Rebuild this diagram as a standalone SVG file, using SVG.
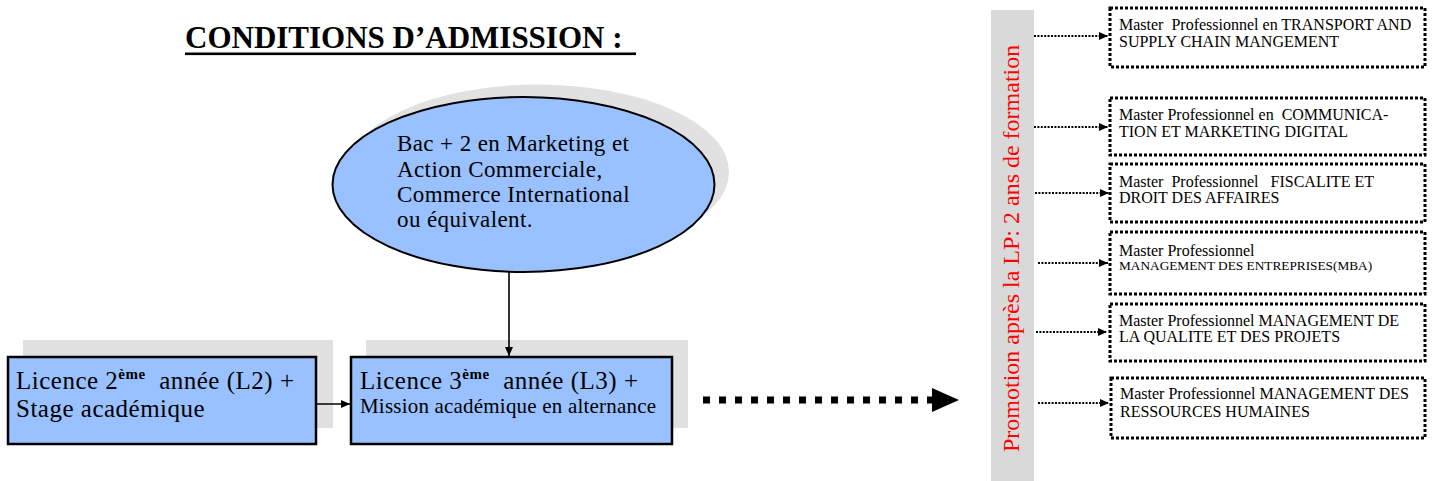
<svg xmlns="http://www.w3.org/2000/svg" width="1435" height="481" viewBox="0 0 1435 481">
<style>
.serif{font-family:"Liberation Serif","Times New Roman",serif;fill:#000}
.shadow{fill:#E1E1E1}
.blue{fill:#99C1FF;stroke:#000;stroke-width:2.5}
.mbox{fill:#fff;stroke:#000;stroke-width:3;stroke-dasharray:3 2}
.dot{stroke:#000;stroke-width:2;stroke-dasharray:2 1.4;fill:none}
.solid{stroke:#000;stroke-width:1.6;fill:none}
.mt{font-size:16px}
.lic{font-size:25px;letter-spacing:0.5px}
</style>
<defs>
<marker id="ah" markerUnits="userSpaceOnUse" markerWidth="9" markerHeight="8" refX="9" refY="4" orient="auto">
<path d="M0,0 L9,4 L0,8 z" fill="#000"/>
</marker>
<marker id="big" markerUnits="userSpaceOnUse" markerWidth="27" markerHeight="24" refX="0" refY="12" orient="auto">
<path d="M0,0 L27,12 L0,24 z" fill="#000"/>
</marker>
</defs>
<rect width="1435" height="481" fill="#fff"/>

<g id="title">
<text class="serif" x="185" y="48" font-size="31" font-weight="bold" xml:space="preserve">CONDITIONS D’ADMISSION :</text>
<rect x="185" y="52.5" width="451" height="2.6" fill="#000"/>
</g>

<g id="bac">
<ellipse class="shadow" cx="538" cy="172" rx="191" ry="87.5"/>
<ellipse cx="523.5" cy="184.5" rx="191" ry="87.5" fill="#99C1FF" stroke="#000" stroke-width="2"/>
<text class="serif" font-size="23" letter-spacing="0.4"><tspan x="397" y="151">Bac + 2 en Marketing et</tspan><tspan x="397" y="177">Action Commerciale,</tspan><tspan x="397" y="202">Commerce International</tspan><tspan x="397" y="227">ou équivalent.</tspan></text>
</g>

<g id="l2">
<rect class="shadow" x="23" y="340" width="310" height="88"/>
<rect class="blue" x="8" y="357" width="308" height="87"/>
<text class="serif lic" xml:space="preserve"><tspan x="16" y="389">Licence 2</tspan><tspan font-size="15" font-weight="bold" dy="-10">ème</tspan><tspan dy="10">  année (L2) +</tspan><tspan x="16" y="417">Stage académique</tspan></text>
</g>

<g id="l3">
<rect class="shadow" x="366" y="340" width="322" height="88"/>
<rect class="blue" x="351" y="357" width="321" height="87"/>
<text class="serif lic" xml:space="preserve"><tspan x="360" y="389">Licence 3</tspan><tspan font-size="15" font-weight="bold" dy="-10">ème</tspan><tspan dy="10">  année (L3) +</tspan><tspan x="360" y="413" style="font-size:21px;letter-spacing:0.2px">Mission académique en alternance</tspan></text>
</g>

<g id="promo">
<rect x="991" y="10" width="43" height="471" fill="#D9D9D9"/>
<text class="serif" font-size="24" style="fill:#FF0000" transform="translate(1019,452) rotate(-90)">Promotion après la LP: 2 ans de formation</text>
</g>

<g id="m1">
<rect class="mbox" x="1110" y="8" width="315" height="59"/>
<text class="serif mt" xml:space="preserve"><tspan x="1119" y="30">Master  Professionnel en TRANSPORT AND</tspan><tspan x="1119" y="47">SUPPLY CHAIN MANGEMENT</tspan></text>
</g>
<g id="m2">
<rect class="mbox" x="1110" y="98" width="315" height="57"/>
<text class="serif mt" xml:space="preserve"><tspan x="1119" y="120">Master Professionnel en  COMMUNICA-</tspan><tspan x="1119" y="137">TION ET MARKETING DIGITAL</tspan></text>
</g>
<g id="m3">
<rect class="mbox" x="1110" y="164" width="315" height="58"/>
<text class="serif mt" xml:space="preserve"><tspan x="1119" y="187">Master  Professionnel   FISCALITE ET</tspan><tspan x="1119" y="203">DROIT DES AFFAIRES</tspan></text>
</g>
<g id="m4">
<rect class="mbox" x="1110" y="232" width="315" height="62"/>
<text class="serif" xml:space="preserve"><tspan x="1119" y="256" font-size="16">Master Professionnel</tspan><tspan x="1119" y="270" font-size="13.3">MANAGEMENT DES ENTREPRISES(MBA)</tspan></text>
</g>
<g id="m5">
<rect class="mbox" x="1110" y="304" width="315" height="57"/>
<text class="serif mt" xml:space="preserve"><tspan x="1119" y="326">Master Professionnel MANAGEMENT DE</tspan><tspan x="1119" y="342">LA QUALITE ET DES PROJETS</tspan></text>
</g>
<g id="m6">
<rect class="mbox" x="1111" y="378" width="314" height="60"/>
<text class="serif mt" xml:space="preserve"><tspan x="1120" y="399">Master Professionnel MANAGEMENT DES</tspan><tspan x="1120" y="417">RESSOURCES HUMAINES</tspan></text>
</g>

<g id="connectors">
<line class="solid" x1="509" y1="272" x2="509" y2="356" marker-end="url(#ah)"/>
<line class="solid" x1="317" y1="404" x2="350" y2="404" marker-end="url(#ah)"/>
<line x1="703" y1="400" x2="932" y2="400" stroke="#000" stroke-width="7" stroke-dasharray="7 9" marker-end="url(#big)"/>
<line class="dot" x1="1034" y1="36" x2="1108" y2="36" marker-end="url(#ah)"/>
<line class="dot" x1="1034" y1="127" x2="1108" y2="127" marker-end="url(#ah)"/>
<line class="dot" x1="1035" y1="193" x2="1109" y2="193" marker-end="url(#ah)"/>
<line class="dot" x1="1038" y1="263" x2="1108" y2="263" marker-end="url(#ah)"/>
<line class="dot" x1="1036" y1="332" x2="1107" y2="332" marker-end="url(#ah)"/>
<line class="dot" x1="1038" y1="403" x2="1109" y2="403" marker-end="url(#ah)"/>
</g>
</svg>
